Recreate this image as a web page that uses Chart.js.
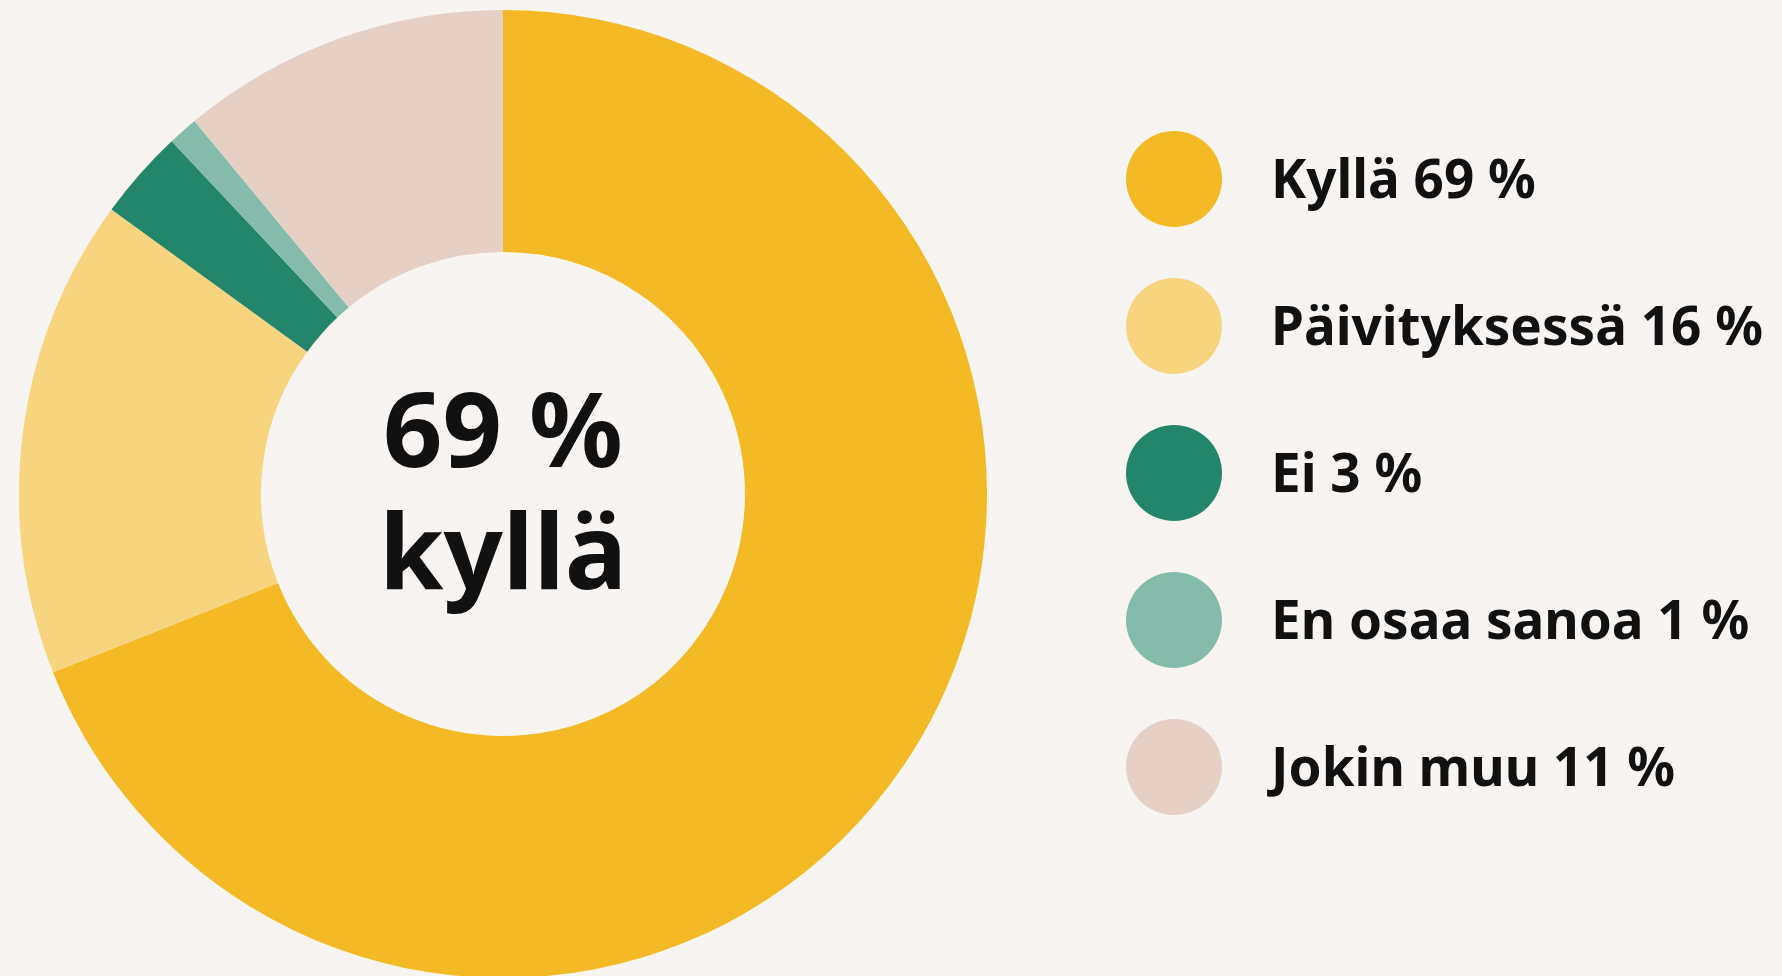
<!DOCTYPE html>
<html lang="fi">
<head>
<meta charset="utf-8">
<title>Kyllä 69 %</title>
<script src="https://cdn.jsdelivr.net/npm/chart.js@4.4.1/dist/chart.umd.min.js"></script>
<style>
  html, body { margin: 0; padding: 0; background: #f8f4f1; overflow: hidden; }
  #wrap { width: 1782px; height: 1000px; }
</style>
</head>
<body>
<div id="wrap"><canvas id="donut" width="1782" height="1000"></canvas></div>
<script>
// data
const labels = ["Kyllä", "Päivityksessä", "Ei", "En osaa sanoa", "Jokin muu"];
const values = [69, 16, 3, 1, 11];
const colors = ["#f4ba26", "#f9d47f", "#23866a", "#84bbaa", "#e5d0c6"];
const centerLines = ["69 %", "kyllä"];

const FONT = "'Noto Sans', sans-serif";

// legend drawn on the canvas, one row per slice
const sideLegend = {
  id: "sideLegend",
  afterDraw(chart) {
    const ctx = chart.ctx;
    const x0 = 1174, y0 = 179, gap = 147, r = 48;
    ctx.save();
    chart.data.labels.forEach((lab, i) => {
      const cy = y0 + i * gap;
      ctx.beginPath();
      ctx.arc(x0, cy, r, 0, Math.PI * 2);
      ctx.fillStyle = chart.data.datasets[0].backgroundColor[i];
      ctx.fill();
      ctx.fillStyle = "#111";
      ctx.font = "bold 53px " + FONT;
      ctx.textBaseline = "alphabetic";
      ctx.fillText(lab + " " + chart.data.datasets[0].data[i] + " %", 1271, cy + 19);
    });
    ctx.restore();
  }
};

// big label in the hole
const centerText = {
  id: "centerText",
  afterDraw(chart) {
    const meta = chart.getDatasetMeta(0).data[0];
    if (!meta) return;
    const ctx = chart.ctx;
    ctx.save();
    ctx.fillStyle = "#111";
    ctx.font = "bold 104px " + FONT;
    ctx.textAlign = "center";
    ctx.textBaseline = "alphabetic";
    ctx.fillText(centerLines[0], meta.x, 467);
    ctx.fillText(centerLines[1], meta.x, 589);
    ctx.restore();
  }
};

new Chart(document.getElementById("donut"), {
  type: "doughnut",
  data: {
    labels: labels,
    datasets: [{
      data: values,
      backgroundColor: colors,
      borderWidth: 0,
      hoverOffset: 0
    }]
  },
  options: {
    responsive: false,
    animation: false,
    cutout: "50%",
    layout: { padding: { left: 19, top: 10, right: 795, bottom: 22 } },
    plugins: {
      legend: { display: false },
      tooltip: { enabled: false }
    }
  },
  plugins: [sideLegend, centerText]
});
</script>
</body>
</html>
